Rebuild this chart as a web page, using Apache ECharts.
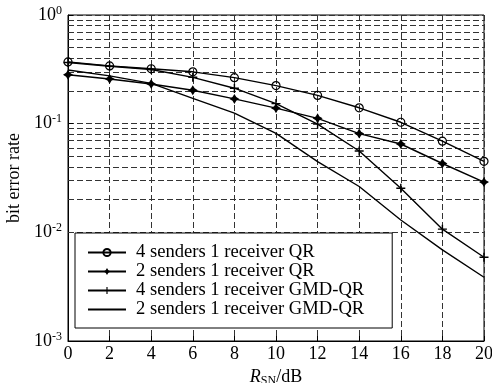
<!DOCTYPE html>
<html>
<head>
<meta charset="UTF-8">
<title>bit error rate</title>
<script src="https://cdn.jsdelivr.net/npm/echarts@6/dist/echarts.min.js"></script>
<style>
  html, body { margin: 0; padding: 0; background: #fff; }
</style>
</head>
<body>
<div id="main" style="width: 492px;height:383px;"></div>
<script type="text/javascript">
// SNR (dB) on the x axis
var snr = [0, 2, 4, 6, 8, 10, 12, 14, 16, 18, 20];
// bit error rate for each scheme
var berQR4 = [0.37, 0.34, 0.32, 0.30, 0.265, 0.224, 0.182, 0.140, 0.103, 0.069, 0.045];
var berQR2 = [0.282, 0.258, 0.232, 0.203, 0.169, 0.139, 0.112, 0.081, 0.065, 0.043, 0.029];
var berGMD4 = [0.365, 0.338, 0.315, 0.267, 0.212, 0.153, 0.099, 0.056, 0.0255, 0.0107, 0.0059];
var berGMD2 = [0.312, 0.275, 0.235, 0.171, 0.125, 0.0815, 0.0447, 0.0264, 0.013, 0.0069, 0.00386];
var names = ['4 senders 1 receiver QR', '2 senders 1 receiver QR',
             '4 senders 1 receiver GMD-QR', '2 senders 1 receiver GMD-QR'];
// y tick exponents (10^e)
var yExps = [0, -1, -2, -3];

var font = '"Liberation Serif", "Times New Roman", Times, serif';
var dash = [6, 3];

function pairs(ys) {
  return snr.map(function (x, i) { return [x, ys[i]]; });
}

// minor log grid lines (2..9 x 10^e)
var minorLines = [];
for (var e = -3; e < 0; e++) {
  for (var m = 2; m <= 9; m++) {
    minorLines.push({ yAxis: m * Math.pow(10, e) });
  }
}

var lineStyle = { color: '#000', width: 1.4 };
var plusPath = 'path://M4.2,0H5.8V4.2H10V5.8H5.8V10H4.2V5.8H0V4.2H4.2Z';
var starPath = 'path://M5,0L6.9,3.1L10,5L6.9,6.9L5,10L3.1,6.9L0,5L3.1,3.1Z';
// plain line icon for the legend (tiny corner dots keep the box 38x9)
var lineIcon = 'path://M0,0H0.01V0.01H0Z M0,3.5H38V5.5H0Z M37.99,8.99H38V9H37.99Z';

var myChart = echarts.init(document.getElementById('main'));
var option = {
  animation: false,
  backgroundColor: '#fff',
  grid: {
    left: 68, right: 8, top: 15, bottom: 42,
    show: true, borderColor: '#000', borderWidth: 1,
    outerBoundsMode: 'none'
  },
  legend: {
    orient: 'vertical',
    left: 75, top: 233,
    padding: [10, 28, 9, 12],
    itemGap: 0,
    itemWidth: 38, itemHeight: 9,
    backgroundColor: '#fff',
    borderColor: '#000', borderWidth: 1,
    textStyle: { fontFamily: font, fontSize: 18.6, color: '#000', lineHeight: 18.5, padding: [0, 0, 0, 5] },
    data: [names[0], names[1], names[2], { name: names[3], icon: lineIcon }]
  },
  xAxis: {
    type: 'value',
    min: 0, max: 20, interval: 2,
    name: '{i|R}{s|SN}{n|/dB}',
    nameLocation: 'middle',
    nameGap: 22,
    nameTextStyle: {
      rich: {
        i: { fontFamily: font, fontSize: 18, fontStyle: 'italic', color: '#000' },
        s: { fontFamily: font, fontSize: 12, color: '#000', padding: [8, 0, 0, 0] },
        n: { fontFamily: font, fontSize: 18, color: '#000' }
      }
    },
    axisLine: { lineStyle: { color: '#000' } },
    axisTick: { inside: true, length: 5, lineStyle: { color: '#000' } },
    axisLabel: { fontFamily: font, fontSize: 18, color: '#000', margin: 4 },
    splitLine: { show: true, lineStyle: { color: '#333', type: dash, width: 1 } }
  },
  yAxis: {
    type: 'log',
    logBase: 10,
    min: 0.001, max: 1,
    name: 'bit error rate',
    nameLocation: 'middle',
    nameRotate: 90,
    nameGap: 36,
    nameTextStyle: { fontFamily: font, fontSize: 18, color: '#000' },
    axisLine: { lineStyle: { color: '#000' } },
    axisTick: { inside: true, length: 5, lineStyle: { color: '#000' } },
    axisLabel: {
      margin: 6,
      formatter: function (v) {
        var ex = Math.round(Math.log10(v));
        if (yExps.indexOf(ex) < 0) return '';
        return '{b|10}{s|' + ex + '}';
      },
      rich: {
        b: { fontFamily: font, fontSize: 18, color: '#000' },
        s: { fontFamily: font, fontSize: 12, color: '#000', padding: [0, 0, 9, 0] }
      }
    },
    splitLine: { show: true, lineStyle: { color: '#333', type: dash, width: 1 } }
  },
  series: [
    {
      name: names[0], type: 'line', data: pairs(berQR4),
      symbol: 'circle', symbolSize: 8,
      itemStyle: { color: 'none', borderColor: '#000', borderWidth: 1.2 },
      lineStyle: lineStyle, z: 5,
      markLine: {
        silent: true, symbol: 'none', label: { show: false },
        lineStyle: { color: '#333', type: dash, width: 1 },
        data: minorLines, z: 1
      }
    },
    {
      name: names[1], type: 'line', data: pairs(berQR2),
      symbol: starPath, symbolSize: 10,
      itemStyle: { color: '#000' }, lineStyle: lineStyle, z: 5
    },
    {
      name: names[2], type: 'line', data: pairs(berGMD4),
      symbol: plusPath, symbolSize: 9,
      itemStyle: { color: '#000' }, lineStyle: lineStyle, z: 5
    },
    {
      name: names[3], type: 'line', data: pairs(berGMD2),
      symbol: 'none',
      itemStyle: { color: '#000' }, lineStyle: lineStyle, z: 5
    }
  ]
};
myChart.setOption(option);
</script>
</body>
</html>
